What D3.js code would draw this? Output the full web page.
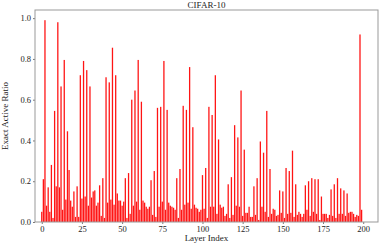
<!DOCTYPE html>
<html>
<head>
<meta charset="utf-8">
<script src="https://cdn.jsdelivr.net/npm/d3@7"></script>
<style>
  body { margin: 0; background: #fff; }
  svg text { font-family: "Liberation Serif", "DejaVu Serif", serif; fill: #222; }
</style>
</head>
<body>
<svg id="chart" width="381" height="244"></svg>
<script>
// exact active ratio per layer
const ratio = [
  0.05, 0.21, 0.99, 0.08, 0.17, 0.05, 0.28, 0.02, 0.545, 0.175,
  0.98, 0.17, 0.665, 0.06, 0.795, 0.11, 0.445, 0.255, 0.105, 0.075,
  0.15, 0.025, 0.175, 0.025, 0.72, 0.115, 0.79, 0.125, 0.745, 0.08,
  0.665, 0.12, 0.15, 0.155, 0.08, 0.095, 0.18, 0.03, 0.215, 0.02,
  0.71, 0.095, 0.685, 0.11, 0.855, 0.085, 0.72, 0.14, 0.105, 0.105,
  0.08, 0.1, 0.215, 0.02, 0.24, 0.04, 0.6, 0.08, 0.645, 0.1,
  0.795, 0.06, 0.59, 0.105, 0.095, 0.075, 0.065, 0.075, 0.205, 0.035,
  0.25, 0.025, 0.56, 0.075, 0.565, 0.1, 0.79, 0.06, 0.55, 0.095,
  0.08, 0.075, 0.07, 0.06, 0.215, 0.02, 0.26, 0.06, 0.57, 0.085,
  0.55, 0.095, 0.76, 0.065, 0.465, 0.085, 0.07, 0.065, 0.05, 0.06,
  0.23, 0.065, 0.265, 0.02, 0.565, 0.075, 0.525, 0.075, 0.72, 0.04,
  0.405, 0.085, 0.07, 0.075, 0.03, 0.04, 0.185, 0.02, 0.22, 0.035,
  0.475, 0.08, 0.415, 0.075, 0.645, 0.03, 0.355, 0.045, 0.045, 0.075,
  0.025, 0.025, 0.175, 0.035, 0.215, 0.01, 0.395, 0.075, 0.34, 0.05,
  0.545, 0.025, 0.26, 0.04, 0.065, 0.06, 0.03, 0.035, 0.155, 0.045,
  0.15, 0.02, 0.265, 0.04, 0.25, 0.045, 0.35, 0.025, 0.185, 0.035,
  0.05, 0.04, 0.025, 0.04, 0.18, 0.06, 0.2, 0.03, 0.215, 0.05,
  0.21, 0.04, 0.21, 0.01, 0.125, 0.04, 0.04, 0.04, 0.02, 0.035,
  0.16, 0.03, 0.185, 0.02, 0.215, 0.04, 0.165, 0.04, 0.155, 0.03,
  0.14, 0.045, 0.05, 0.05, 0.04, 0.025, 0.035, 0.03, 0.92, 0.06
];
const xTicks = [0, 25, 50, 75, 100, 125, 150, 175, 200];
const yTicks = [0.0, 0.2, 0.4, 0.6, 0.8, 1.0];

const svg = d3.select('#chart');
const mLeft = 35, mRight = 378, mTop = 10, mBottom = 222;

let x = d3.scaleLinear().domain([-4.2, 209.2]).range([mLeft, mRight]);
let y = d3.scaleLinear().domain([0, 1.04]).range([mBottom, mTop]);

// bars
svg.append('g').selectAll('rect')
  .data(ratio)
  .join('rect')
  .attr('x', (d, i) => x(i - 0.4))
  .attr('width', x(0.8) - x(0))
  .attr('y', d => y(d))
  .attr('height', d => y(0) - y(d))
  .attr('fill', '#ff1414');

// axes
let xAxis = d3.axisBottom(x).tickValues(xTicks).tickSize(2).tickPadding(2).tickFormat(d3.format('d'));
let gx = svg.append('g').attr('transform', 'translate(0,' + mBottom + ')').call(xAxis);

let yAxis = d3.axisLeft(y).tickValues(yTicks).tickSize(2).tickPadding(2).tickFormat(d3.format('.1f'));
let gy = svg.append('g').attr('transform', 'translate(' + mLeft + ',0)').call(yAxis);

[gx, gy].forEach(g => {
  g.select('.domain').remove();
  g.selectAll('line').attr('stroke', '#777');
  g.selectAll('text').style('font-size', '8.5px').attr('fill', '#222');
});

// frame
svg.append('rect')
  .attr('x', mLeft).attr('y', mTop)
  .attr('width', mRight - mLeft).attr('height', mBottom - mTop)
  .attr('fill', 'none').attr('stroke', '#999').attr('stroke-width', 1);

// labels
svg.append('text').attr('x', (mLeft + mRight) / 2).attr('y', 8)
  .attr('text-anchor', 'middle').style('font-size', '9px').text('CIFAR-10');

svg.append('text').attr('x', (mLeft + mRight) / 2).attr('y', 241)
  .attr('text-anchor', 'middle').style('font-size', '9px').text('Layer Index');

svg.append('text')
  .attr('transform', 'translate(8,' + (mTop + mBottom) / 2 + ') rotate(-90)')
  .attr('text-anchor', 'middle').style('font-size', '9px').text('Exact Active Ratio');
</script>
</body>
</html>
